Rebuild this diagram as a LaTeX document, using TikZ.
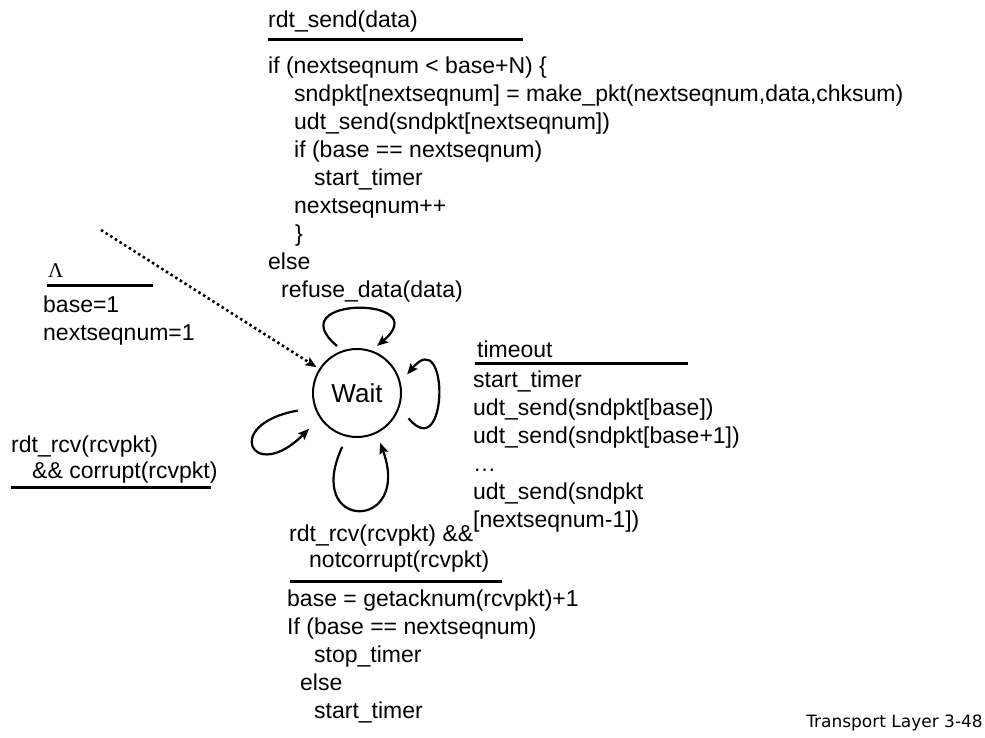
\documentclass[tikz,border=0pt]{standalone}
\usepackage{fontspec}
\setmainfont{Liberation Sans}
\newfontfamily\slidefont{DejaVu Sans}
\newfontfamily\greekfont{Liberation Serif}
\usetikzlibrary{arrows.meta}

\tikzset{
  code/.style={inner sep=0pt, align=left, anchor=north west, font=\fontsize{23}{28}\selectfont},
  event/.style={code, font=\fontsize{23}{26.5}\selectfont},
  rule/.style={line width=3pt},
  trans/.style={line width=2.2pt, -{Stealth[length=11pt,width=9pt,inset=2pt]}},
  initarrow/.style={line width=2.6pt, dash pattern=on 2.5pt off 3pt, -{Stealth[length=11pt,width=9pt,inset=2pt]}, shorten >=3pt},
  statenode/.style={draw, circle, line width=2pt, minimum size=88pt, inner sep=0pt, font=\fontsize{26}{30}\selectfont}
}

\begin{document}
\begin{tikzpicture}[x=1pt, y=1pt]
    \useasboundingbox (0,0) rectangle (985,-738);

    \node[statenode] (wait) at (357,-393) {Wait};

    % initial transition
    \coordinate (init) at (101,-230);
    \draw[initarrow] (init) -- (wait);
    \node[inner sep=0pt, anchor=base west, font=\greekfont\fontsize{21}{24}\selectfont] (lambda) at (48,-277) {Λ};
    \draw[rule] (47,-285) -- (153,-285);
    \node[code] (initact) at (43,-295.5) {base=1\\nextseqnum=1};

    % rdt_send
    \node[code, anchor=base west] (sendev) at (268,-28) {rdt\_send(data)};
    \draw[rule] (268,-40) -- (523,-40);
    \node[code] (sendact) at (268,-56.3) {if (nextseqnum < base+N) \{\\
        \hspace*{26pt}sndpkt[nextseqnum] = make\_pkt(nextseqnum,data,chksum)\\
        \hspace*{26pt}udt\_send(sndpkt[nextseqnum])\\
        \hspace*{26pt}if (base == nextseqnum)\\
        \hspace*{46pt}start\_timer\\
        \hspace*{26pt}nextseqnum++\\
        \hspace*{27pt}\}\\
        else\\
        \hspace*{13pt}refuse\_data(data)};
    \draw[trans, shorten <=7pt, shorten >=7pt] (wait.109) to[out=140, in=40, distance=85pt] (wait.71);

    % timeout
    \node[code, anchor=base west] (timeev) at (477,-357) {timeout};
    \draw[rule] (475,-363) -- (688,-363);
    \node[code] (timeact) at (473,-370.5) {start\_timer\\
        udt\_send(sndpkt[base])\\
        udt\_send(sndpkt[base+1])\\
        \dots\\
        udt\_send(sndpkt\\
        {[}nextseqnum-1])};
    \draw[trans, shorten <=14pt, shorten >=10pt] (wait.341) to[out=-50, in=50, distance=76pt] (wait.14);

    % corrupt ack
    \node[event] (correv) at (11,-435.3) {rdt\_rcv(rcvpkt)\\\hspace*{21pt}\&\& corrupt(rcvpkt)};
    \draw[rule] (11,-487) -- (211,-487);
    \draw[trans, shorten <=17pt, shorten >=15pt] (wait.199) to[out=190, in=225, distance=95pt] (wait.214);

    % good ack
    \node[event] (ackev) at (289,-524.3) {rdt\_rcv(rcvpkt) \&\&\\\hspace*{20pt}notcorrupt(rcvpkt)};
    \draw[rule] (290,-581) -- (502,-581);
    \node[code] (ackact) at (287,-589.3) {base = getacknum(rcvpkt)+1\\
        If (base == nextseqnum)\\
        \hspace*{27pt}stop\_timer\\
        \hspace*{13pt}else\\
        \hspace*{27pt}start\_timer};
    \draw[trans, shorten <=11pt, shorten >=10pt] (wait.257) to[out=245, in=290, distance=105pt] (wait.296);

    \node[inner sep=0pt, anchor=base east, font=\slidefont\fontsize{17}{20}\selectfont] (footer) at (983,-727) {Transport Layer 3-48};
\end{tikzpicture}
\end{document}
